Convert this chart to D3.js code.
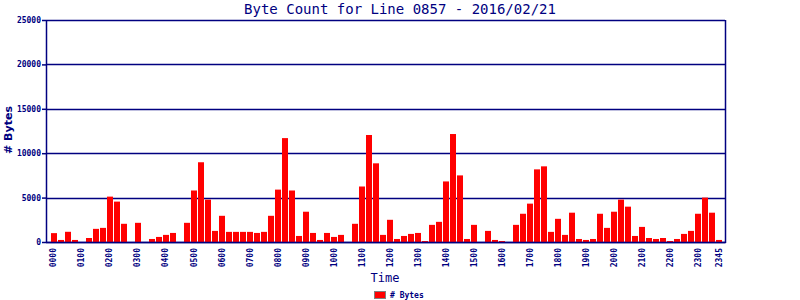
<!DOCTYPE html>
<html>
<head>
<meta charset="utf-8">
<script src="https://cdn.jsdelivr.net/npm/d3@7"></script>
<style>
body { margin: 0; background: #fff; }
text { font-family: "DejaVu Sans Mono", "Liberation Mono", monospace; fill: #000080; }
</style>
</head>
<body>
<script>
// 15 minute slots, 0000 .. 2345
var times = [];
for (var hr = 0; hr < 24; hr++) {
  ["00", "15", "30", "45"].forEach(function(m) {
    times.push((hr < 10 ? "0" + hr : "" + hr) + m);
  });
}

var bytes = [
  1000, 230, 1150, 230, 0, 450, 1480, 1590,
  5110, 4550, 2050, 0, 2160, 0, 340, 570,
  800, 1020, 0, 2160, 5800, 8980, 4770, 1250,
  2950, 1140, 1140, 1140, 1140, 1020, 1140, 2950,
  5900, 11700, 5800, 680, 3410, 1020, 230, 1020,
  570, 800, 0, 2050, 6250, 12050, 8860, 800,
  2500, 340, 680, 910, 1020, 110, 1930, 2270,
  6820, 12160, 7500, 340, 1930, 0, 1250, 230,
  110, 0, 1930, 3180, 4320, 8180, 8520, 1140,
  2610, 800, 3300, 340, 230, 340, 3180, 1590,
  3410, 4770, 3980, 680, 1700, 450, 340, 450,
  110, 340, 910, 1250, 3180, 5000, 3300, 230
];

var xLabels = ["0000","0100","0200","0300","0400","0500","0600","0700","0800","0900","1000","1100",
  "1200","1300","1400","1500","1600","1700","1800","1900","2000","2100","2200","2300","2345"];
var yTicks = [0, 5000, 10000, 15000, 20000, 25000];

var navy = "#000080";
var w = 800, h = 300;
var pLeft = 46, pRight = 725, pTop = 20, pBottom = 242;

var svg = d3.select("body").append("svg")
  .attr("width", w)
  .attr("height", h);

var x = d3.scaleBand()
  .domain(times)
  .range([50.5, 722.5])
  .paddingInner(0.14)
  .paddingOuter(0);

var y = d3.scaleLinear()
  .domain([0, 25000])
  .range([pBottom, pTop]);

// gridlines
svg.selectAll("line.grid")
  .data(yTicks)
  .enter()
  .append("line")
  .attr("class", "grid")
  .attr("x1", pLeft)
  .attr("x2", pRight)
  .attr("y1", function(d) { return Math.round(y(d)) + 0.5; })
  .attr("y2", function(d) { return Math.round(y(d)) + 0.5; })
  .attr("stroke", navy)
  .attr("stroke-width", 1.3);

// bars
svg.selectAll("rect.bar")
  .data(bytes)
  .enter()
  .append("rect")
  .attr("class", "bar")
  .attr("x", function(d, i) { return Math.round(x(times[i])); })
  .attr("y", function(d) { return y(d); })
  .attr("width", 6)
  .attr("height", function(d) { return pBottom - y(d); })
  .attr("fill", "#ff0000");

// frame
svg.append("line").attr("x1", pLeft + 0.5).attr("x2", pLeft + 0.5).attr("y1", pTop).attr("y2", pBottom + 1)
  .attr("stroke", navy).attr("stroke-width", 1.5);
svg.append("line").attr("x1", pRight + 0.5).attr("x2", pRight + 0.5).attr("y1", pTop).attr("y2", pBottom + 1)
  .attr("stroke", navy).attr("stroke-width", 1.5);
svg.append("line").attr("x1", pLeft).attr("x2", pRight + 1).attr("y1", pBottom + 0.5).attr("y2", pBottom + 0.5)
  .attr("stroke", navy).attr("stroke-width", 1.5);

// y axis
var yAxis = svg.append("g")
  .attr("transform", "translate(" + pLeft + ",0)")
  .call(d3.axisLeft(y).tickValues(yTicks).tickSize(4).tickPadding(1).tickFormat(d3.format("d")));
yAxis.select(".domain").remove();
yAxis.selectAll("line").attr("stroke", navy).attr("stroke-width", 1.5);
yAxis.selectAll("text")
  .attr("fill", navy)
  .style("font-size", "8px")
  .style("font-weight", "bold");

// x axis
var xAxis = svg.append("g")
  .attr("transform", "translate(0," + pBottom + ")")
  .call(d3.axisBottom(x).tickValues(xLabels).tickSize(0));
xAxis.select(".domain").remove();
xAxis.selectAll("text")
  .attr("fill", navy)
  .style("font-size", "8px")
  .style("font-weight", "bold")
  .attr("transform", "rotate(-90)")
  .attr("text-anchor", "end")
  .attr("x", -6)
  .attr("y", 0)
  .attr("dy", "0.35em");

// title
svg.append("text")
  .attr("x", 400)
  .attr("y", 14)
  .attr("text-anchor", "middle")
  .style("font-size", "14px")
  .text("Byte Count for Line 0857 - 2016/02/21");

svg.append("text")
  .attr("transform", "translate(12,130) rotate(-90)")
  .attr("text-anchor", "middle")
  .style("font-family", "'DejaVu Sans', sans-serif")
  .style("font-size", "11px")
  .style("font-weight", "bold")
  .text("# Bytes");

svg.append("text")
  .attr("x", 385)
  .attr("y", 282)
  .attr("text-anchor", "middle")
  .style("font-size", "12px")
  .text("Time");

// legend
svg.append("rect")
  .attr("x", 374.5).attr("y", 291.5)
  .attr("width", 11).attr("height", 7)
  .attr("fill", "#ff0000")
  .attr("stroke", "#808080");
svg.append("text")
  .attr("x", 390)
  .attr("y", 298)
  .style("font-size", "8px")
  .style("font-weight", "bold")
  .text("# Bytes");
</script>
</body>
</html>
